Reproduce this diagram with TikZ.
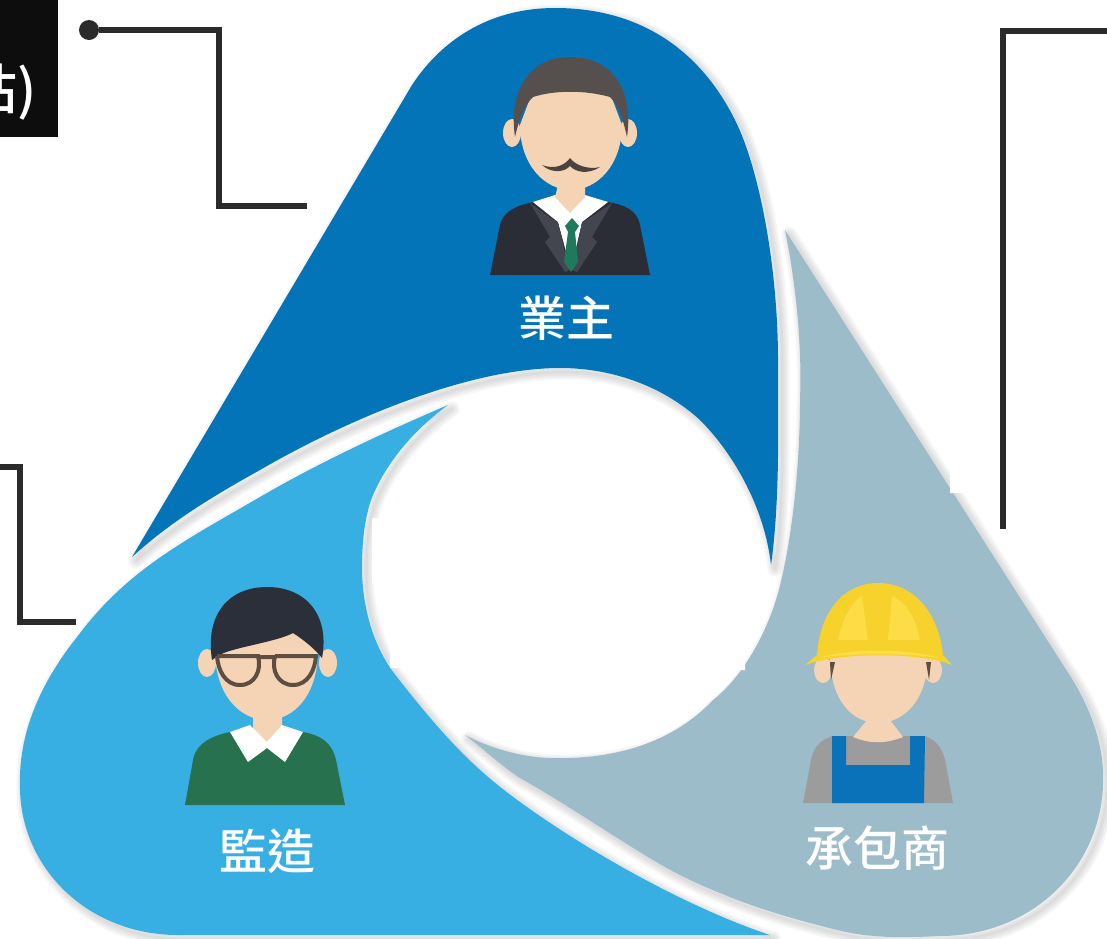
\documentclass[tikz,border=0pt]{standalone}
\usepackage{fontspec}
\newfontfamily\cjk{Noto Sans CJK TC Medium}
\definecolor{OwnerBlue}{HTML}{0474B8}
\definecolor{SuperBlue}{HTML}{38AFE2}
\definecolor{ContrGrey}{HTML}{9CBCC9}
\definecolor{Skin}{HTML}{F5D3B5}
\definecolor{Ink}{HTML}{2B2B2B}
\definecolor{Suit}{HTML}{2A2D36}
\definecolor{Lapel}{HTML}{44464F}
\definecolor{Tie}{HTML}{1E7A5A}
\definecolor{OwnerHair}{HTML}{55504D}
\definecolor{Tash}{HTML}{4A4340}
\definecolor{Sweater}{HTML}{27714F}
\definecolor{SuperHair}{HTML}{2A2F3A}
\definecolor{Frame}{HTML}{5D4E40}
\definecolor{Shirt}{HTML}{9C9C9C}
\definecolor{Overall}{HTML}{0A72B8}
\definecolor{Helmet}{HTML}{F8D22C}
\definecolor{HelmetLit}{HTML}{FCDD45}
\tikzset{
  soft/.style={preaction={draw=black,opacity=.035,line width=#1,line join=round,transform canvas={shift={(4,4)}}}},
  petal/.style={soft=15pt,soft=11pt,soft=7pt,soft=3pt,fill=#1},
  role/.style={text=white,font=\cjk\fontsize{48}{48}\selectfont,inner sep=0pt},
  leader/.style={draw=Ink,line width=6pt,miter limit=10},
  skin/.style={fill=Skin}
}
\begin{document}
\begin{tikzpicture}[x=1pt,y=-1pt]
  \useasboundingbox (0,0) rectangle (1107,938);
  % petals
  \path[petal=OwnerBlue] (132,557) -- (412,85) .. controls (445,35) and (495,8) .. (555,8)
    .. controls (640,8) and (700,50) .. (735,120) .. controls (760,170) and (778,270) .. (778,360)
    .. controls (778,430) and (780,500) .. (771,565)
    .. controls (765,510) and (735,455) .. (700,420) .. controls (665,388) and (615,368) .. (560,368)
    .. controls (470,368) and (350,418) .. (260,470) .. controls (215,495) and (170,522) .. (132,557) -- cycle;
  \path[petal=SuperBlue] (448,405) .. controls (385,432) and (320,462) .. (260,497)
    .. controls (210,526) and (165,550) .. (127,583) .. controls (104,603) and (90,620) .. (77,637)
    .. controls (35,690) and (18,740) .. (20,790)
    .. controls (22,870) and (90,936) .. (180,935) -- (770,935)
    .. controls (700,912) and (600,860) .. (520,802) .. controls (480,773) and (450,745) .. (397,677)
    .. controls (375,650) and (362,610) .. (362,567) .. controls (362,540) and (365,520) .. (370,503)
    .. controls (378,480) and (400,440) .. (448,405) -- cycle;
  \path[petal=ContrGrey] (785,230) -- (1065,668) .. controls (1090,705) and (1105,745) .. (1103,785)
    .. controls (1100,870) and (1030,936) .. (940,936) .. controls (900,938) and (870,938) .. (837,930)
    .. controls (805,922) and (760,910) .. (720,893) .. controls (700,885) and (690,880) .. (680,875)
    .. controls (640,855) and (580,812) .. (520,778) .. controls (500,765) and (485,750) .. (465,735)
    .. controls (490,748) and (520,757) .. (550,758) .. controls (620,760) and (675,740) .. (713,700)
    .. controls (745,675) and (772,625) .. (782,577) .. controls (795,520) and (800,450) .. (800,400)
    .. controls (802,350) and (797,290) .. (785,230) -- cycle;
  % patches of white over the shadow
  \fill[white] (372,518) rectangle (420,584) (390,610) rectangle (430,668)
    (950,440) rectangle (985,493) (725,640) rectangle (745,670);
  % owner
  \fill[skin] (512,133) ellipse (9 and 14) (628,133) ellipse (9 and 14);
  \fill[Suit] (490,275) -- (500,225) .. controls (503,210) and (520,205) .. (533,202) -- (608,202)
    .. controls (625,205) and (637,210) .. (640,225) -- (650,275) -- cycle;
  \fill[white] (558,222) -- (570,210) -- (582,222) -- (571,270) -- cycle;
  \fill[Lapel] (530,203) -- (558,223) -- (569,270) -- (565,272) -- (545,242) -- (550,237) -- cycle;
  \fill[Lapel] (612,203) -- (582,223) -- (572,270) -- (577,272) -- (597,242) -- (592,237) -- cycle;
  \fill[white] (533,202) -- (555,195) -- (585,195) -- (608,202) -- (582,222) -- (570,213) -- (558,222) -- cycle;
  \fill[skin] (558,185) -- (585,185) -- (585,197) -- (570,213) -- (555,197) -- cycle;
  \fill[Tie] (572,218) -- (579,226) -- (575,232) -- (578,262) -- (571,272) -- (564,262) -- (568,232) -- (565,226) -- cycle;
  \fill[skin] (520,125) .. controls (520,165) and (545,190) .. (571,190) .. controls (597,190) and (622,165) .. (622,125)
    -- (607,85) -- (535,85) -- cycle;
  \fill[OwnerHair] (515,137) .. controls (508,90) and (530,57) .. (570,57) .. controls (612,57) and (634,90) .. (627,137)
    .. controls (622,115) and (618,105) .. (610,97) .. controls (585,90) and (555,90) .. (533,97) .. controls (525,105) and (520,115) .. (515,137) -- cycle;
  \fill[Tash] (542,165) .. controls (555,170) and (565,165) .. (570,158) .. controls (575,165) and (588,170) .. (600,167)
    .. controls (588,175) and (575,172) .. (570,166) .. controls (565,172) and (552,174) .. (542,165) -- cycle;
  \node[role] (Owner) at (566,318) {業主};
  % supervisor
  \fill[skin] (207,663) ellipse (9 and 14) (328,663) ellipse (9 and 14);
  \fill[Sweater] (185,805) -- (193,760) .. controls (196,742) and (215,735) .. (230,732) -- (303,732)
    .. controls (320,735) and (332,742) .. (336,760) -- (345,805) -- cycle;
  \fill[skin] (253,715) -- (282,715) -- (282,730) -- (267,745) -- (253,730) -- cycle;
  \fill[white] (230,732) -- (250,725) -- (267,742) -- (282,725) -- (303,732) -- (285,762) -- (267,748) -- (248,762) -- cycle;
  \fill[skin] (215,650) .. controls (215,695) and (240,720) .. (267,720) .. controls (294,720) and (318,695) .. (318,650)
    -- (300,625) -- (235,625) -- cycle;
  \fill[SuperHair] (212,660) .. controls (205,615) and (228,587) .. (267,587) .. controls (306,587) and (330,615) .. (322,658)
    .. controls (316,650) and (304,640) .. (293,633) .. controls (280,640) and (250,645) .. (233,650) .. controls (225,652) and (218,655) .. (212,660) -- cycle;
  \draw[Frame,line width=4pt] (217,656) -- (258,656) .. controls (262,670) and (255,685) .. (240,685) .. controls (225,685) and (218,670) .. (217,656)
    (275,656) -- (316,656) .. controls (315,670) and (308,685) .. (293,685) .. controls (278,685) and (271,670) .. (275,656)
    (258,657) -- (275,657);
  \node[role] (Super) at (267,851) {監造};
  % contractor
  \fill[skin] (823,670) ellipse (9 and 13) (933,670) ellipse (9 and 13);
  \fill[Shirt] (803,803) -- (811,760) .. controls (814,745) and (822,740) .. (832,736) -- (925,736)
    .. controls (935,740) and (941,745) .. (945,760) -- (953,803) -- cycle;
  \fill[Overall] (832,736) -- (846,736) -- (846,765) -- (910,765) -- (910,736) -- (925,736) -- (924,803) -- (832,803) -- cycle;
  \fill[skin] (853,737) -- (867,720) -- (890,720) -- (903,737) .. controls (885,744) and (870,744) .. (853,737) -- cycle;
  \fill[skin] (830,655) .. controls (830,700) and (852,723) .. (878,723) .. controls (904,723) and (928,700) .. (928,655) -- cycle;
  \fill[Frame] (830,662) -- (835,662) -- (831,680) -- cycle (926,662) -- (931,662) -- (929,680) -- cycle;
  \fill[Helmet] (805,665) -- (817,655) .. controls (820,610) and (845,583) .. (878,583)
    .. controls (912,583) and (938,610) .. (943,655) -- (952,665) .. controls (920,652) and (840,652) .. (805,665) -- cycle;
  \fill[HelmetLit] (838,640) .. controls (845,610) and (855,600) .. (862,596) -- (868,640) -- cycle
    (888,640) -- (892,596) .. controls (905,602) and (915,615) .. (920,640) -- cycle
    (818,658) .. controls (850,648) and (905,648) .. (940,658) .. controls (905,653) and (850,653) .. (818,658) -- cycle;
  \node[role] (Contr) at (877,848) {承包商};
  % leaders
  \node[fill=black!95,minimum width=58pt,minimum height=137pt,anchor=north west,inner sep=0pt] (Badge) at (0,0) {};
  \begin{scope}
    \clip (0,0) rectangle (58,137);
    \node[text=white,font=\cjk\fontsize{54}{54}\selectfont,anchor=east,inner sep=0pt] (BadgeText) at (37,92) {站)};
  \end{scope}
  \node[circle,fill=Ink,minimum size=20pt,inner sep=0pt] (Dot) at (89,30) {};
  \coordinate (OwnerEnd) at (307,206);
  \coordinate (SuperStart) at (0,467);
  \coordinate (SuperEnd) at (76,622);
  \coordinate (ContrStart) at (1107,31);
  \coordinate (ContrEnd) at (1003,529);
  \draw[leader] (Dot) -- (219,30) |- (OwnerEnd);
  \draw[leader] (SuperStart) -- (20,467) |- (SuperEnd);
  \draw[leader] (ContrStart) -| (ContrEnd);
\end{tikzpicture}
\end{document}
